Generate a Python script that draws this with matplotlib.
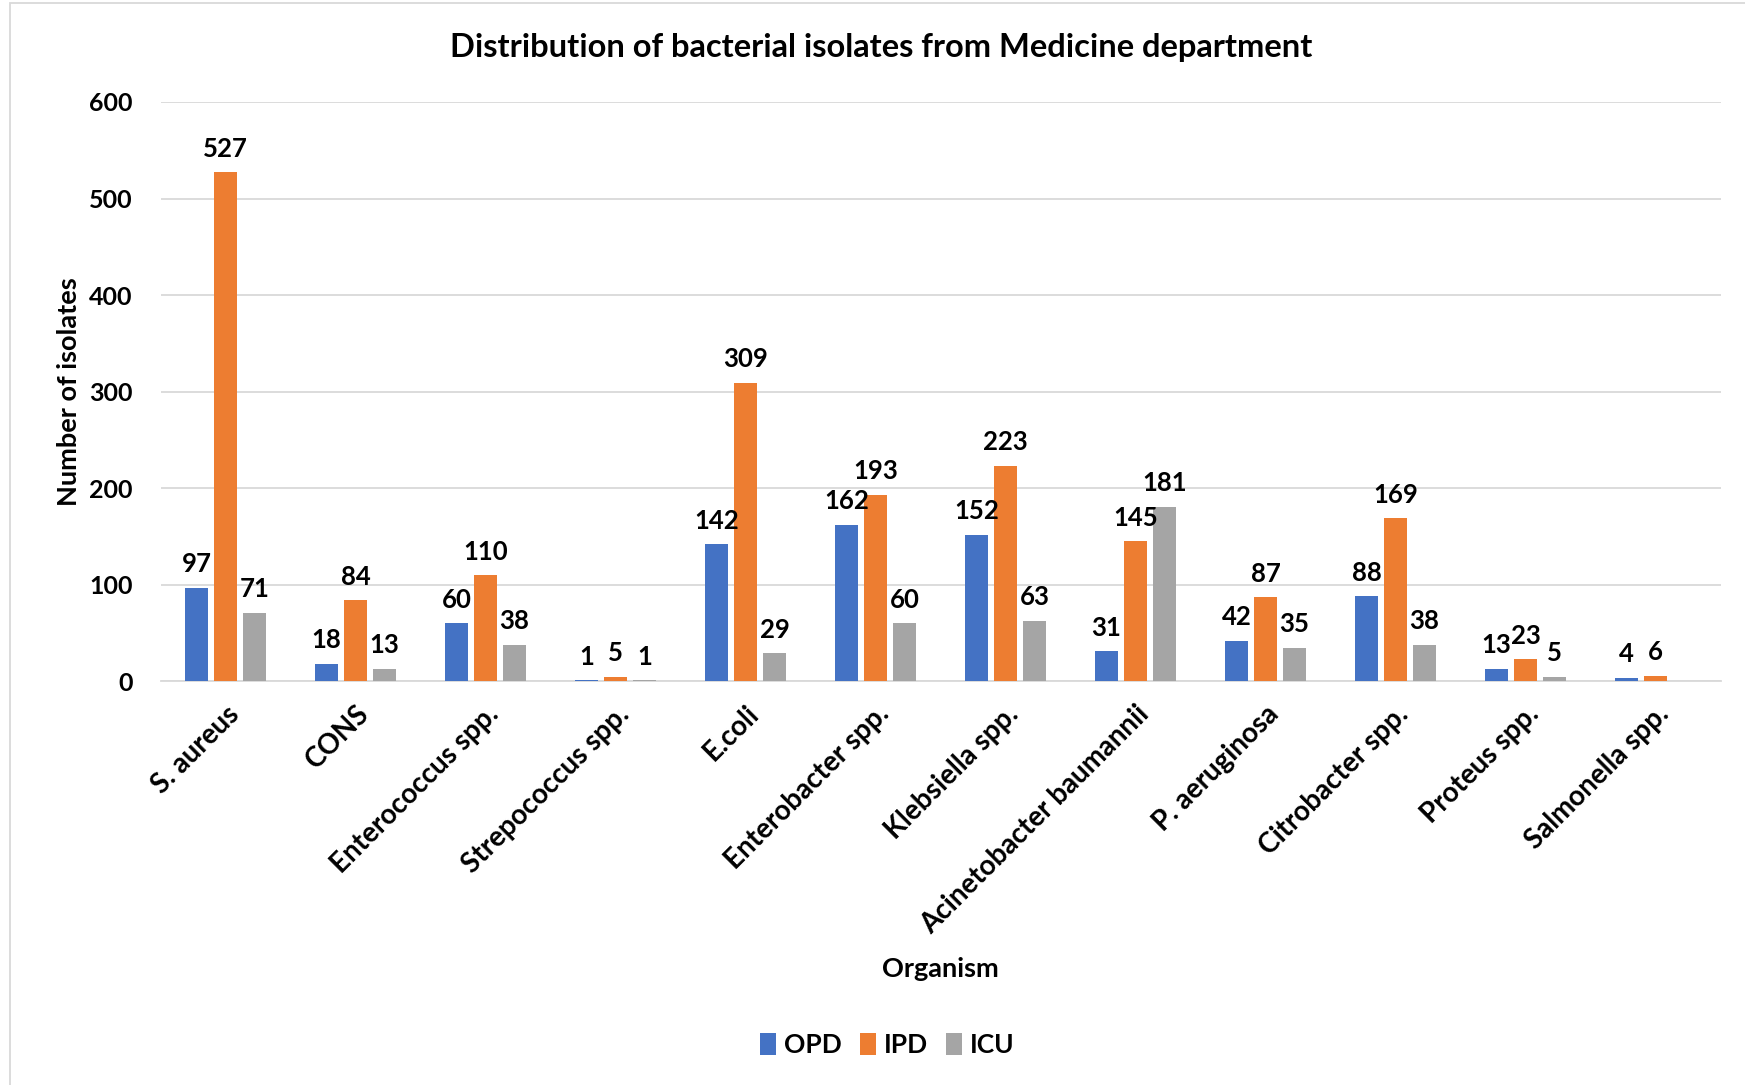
import matplotlib
matplotlib.use("Agg")
import matplotlib.pyplot as plt
import numpy as np
from matplotlib.patches import Rectangle

categories = ["S. aureus", "CONS", "Enterococcus spp.", "Strepococcus spp.", "E.coli",
              "Enterobacter spp.", "Klebsiella spp.", "Acinetobacter baumannii",
              "P. aeruginosa", "Citrobacter spp.", "Proteus spp.", "Salmonella spp."]
opd = [97, 18, 60, 1, 142, 162, 152, 31, 42, 88, 13, 4]
ipd = [527, 84, 110, 5, 309, 193, 223, 145, 87, 169, 23, 6]
icu = [71, 13, 38, 1, 29, 60, 63, 181, 35, 38, 5, 0]
series_names = ["OPD", "IPD", "ICU"]
colors = ["#4472C4", "#ED7D31", "#A5A5A5"]
yticks = [0, 100, 200, 300, 400, 500, 600]

plt.rcParams['font.family'] = ['Lato', 'DejaVu Sans']

fig = plt.figure(figsize=(17.45, 10.85), dpi=100)
ax = fig.add_axes([0.092, 0.372, 0.894, 0.534])

x = np.arange(len(categories))
width = 0.175
offset = 0.223
for i, (vals, name, c) in enumerate(zip([opd, ipd, icu], series_names, colors)):
    pos = x + (i - 1) * offset
    ax.bar(pos, vals, width, color=c, label=name, zorder=3)
    for p, v in zip(pos, vals):
        if v == 0:
            continue
        ax.text(p, v + 12, str(v), ha='center', va='bottom', fontsize=18.5,
                fontweight='bold', color='black', zorder=4)

ax.set_xlim(-0.5, len(categories) - 0.5)
ax.set_ylim(0, 600)
ax.set_yticks(yticks)
ax.set_yticklabels([str(t) for t in yticks], fontsize=18, fontweight='bold')
ax.set_xticks(x)
ax.set_xticklabels(categories, rotation=45, ha='right', rotation_mode='anchor',
                   fontsize=20, fontweight='bold')
ax.tick_params(axis='y', length=0, pad=20)
ax.tick_params(axis='x', length=0, pad=14)
ax.grid(axis='y', color='#D9D9D9', linewidth=1.3, zorder=0)
for s in ['top', 'right', 'left']:
    ax.spines[s].set_visible(False)
ax.spines['bottom'].set_color('#D9D9D9')
ax.spines['bottom'].set_linewidth(1.3)

fig.text(0.505, 0.956, "Distribution of bacterial isolates from Medicine department",
         ha='center', va='center', fontsize=23.5, fontweight='bold')
ax.set_ylabel("Number of isolates", fontsize=19.5, fontweight='bold', labelpad=6)
fig.text(0.539, 0.107, "Organism", ha='center', va='center', fontsize=19.5, fontweight='bold')

leg = ax.legend(loc='center', bbox_to_anchor=(0.466, -0.628), ncol=3, frameon=False,
                prop={'weight': 'bold', 'size': 19}, handlelength=0.6,
                handleheight=0.9, handletextpad=0.3, columnspacing=0.7)

fig.patches.append(Rectangle((0.006, -0.01), 1.1, 1.007, transform=fig.transFigure,
                             fill=False, edgecolor='#D9D9D9', linewidth=1.3))

fig.savefig("out.png", dpi=100)
